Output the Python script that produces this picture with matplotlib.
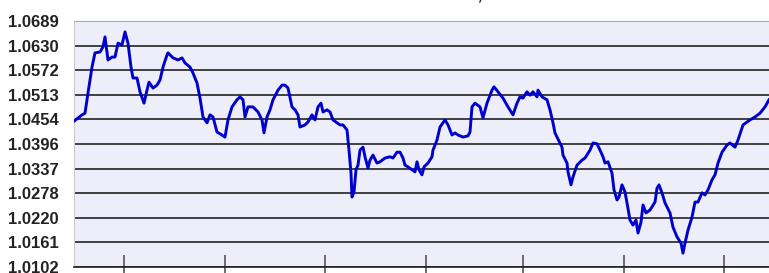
import numpy as np
import matplotlib.pyplot as plt

# series (day index, value)
days = [0, 8, 11, 14, 18, 21, 26, 29, 31, 34, 38, 41, 44, 48, 51, 54, 57, 59, 63, 66,
        70, 73, 75, 79, 83, 86, 89, 93, 94, 99, 104, 108, 111, 116, 119, 123, 126, 129, 133, 136,
        139, 143, 148, 151, 154, 158, 163, 166, 169, 171, 174, 179, 184, 188, 190, 193, 196, 199, 204, 208,
        211, 214, 218, 221, 224, 226, 231, 234, 238, 241, 244, 247, 249, 253, 256, 259, 263, 266, 269, 273,
        274, 275, 277, 278, 280, 282, 284, 286, 289, 291, 294, 296, 299, 303, 306, 311, 316, 319, 323, 326,
        329, 331, 334, 338, 341, 343, 345, 348, 350, 354, 358, 359, 363, 366, 371, 374, 378, 381, 384, 389,
        394, 396, 398, 401, 406, 409, 413, 418, 420, 424, 429, 434, 439, 443, 446, 449, 453, 456, 459, 463,
        464, 468, 473, 476, 479, 481, 483, 488, 489, 493, 494, 497, 499, 503, 508, 511, 516, 519, 523, 526,
        529, 531, 534, 538, 540, 543, 545, 548, 551, 553, 556, 559, 562, 564, 567, 569, 572, 576, 581, 583,
        585, 588, 591, 596, 599, 603, 607, 609, 611, 614, 618, 621, 624, 628, 631, 634, 638, 641, 644, 648,
        653, 656, 661, 664, 669, 676, 681, 686, 691, 695]
values = [1.0450, 1.0465, 1.0469, 1.0517, 1.0579, 1.0613, 1.0615, 1.0627, 1.0651, 1.0596,
          1.0603, 1.0603, 1.0636, 1.0632, 1.0663, 1.0636, 1.0579, 1.0553, 1.0553, 1.0520,
          1.0493, 1.0524, 1.0543, 1.0529, 1.0536, 1.0548, 1.0579, 1.0608, 1.0613, 1.0601,
          1.0596, 1.0601, 1.0589, 1.0579, 1.0565, 1.0541, 1.0505, 1.0460, 1.0446, 1.0465,
          1.0460, 1.0424, 1.0417, 1.0412, 1.0453, 1.0484, 1.0501, 1.0508, 1.0501, 1.0460,
          1.0484, 1.0484, 1.0472, 1.0453, 1.0422, 1.0460, 1.0477, 1.0501, 1.0524, 1.0536,
          1.0536, 1.0529, 1.0484, 1.0477, 1.0465, 1.0436, 1.0441, 1.0448, 1.0465, 1.0453,
          1.0484, 1.0493, 1.0472, 1.0477, 1.0472, 1.0453, 1.0446, 1.0441, 1.0441, 1.0429,
          1.0405, 1.0381, 1.0326, 1.0269, 1.0281, 1.0334, 1.0345, 1.0381, 1.0388, 1.0365,
          1.0338, 1.0357, 1.0369, 1.0350, 1.0353, 1.0362, 1.0365, 1.0362, 1.0376, 1.0376,
          1.0362, 1.0345, 1.0341, 1.0334, 1.0329, 1.0353, 1.0334, 1.0322, 1.0341, 1.0350,
          1.0365, 1.0381, 1.0405, 1.0436, 1.0453, 1.0441, 1.0417, 1.0422, 1.0417, 1.0412,
          1.0415, 1.0424, 1.0484, 1.0493, 1.0484, 1.0458, 1.0493, 1.0524, 1.0532, 1.0520,
          1.0505, 1.0484, 1.0465, 1.0493, 1.0508, 1.0505, 1.0520, 1.0512, 1.0520, 1.0508,
          1.0524, 1.0508, 1.0501, 1.0477, 1.0446, 1.0422, 1.0412, 1.0388, 1.0369, 1.0350,
          1.0329, 1.0298, 1.0317, 1.0345, 1.0357, 1.0362, 1.0381, 1.0398, 1.0396, 1.0381,
          1.0365, 1.0350, 1.0353, 1.0326, 1.0286, 1.0262, 1.0269, 1.0298, 1.0281, 1.0255,
          1.0214, 1.0202, 1.0214, 1.0183, 1.0209, 1.0250, 1.0231, 1.0238, 1.0257, 1.0290,
          1.0298, 1.0279, 1.0255, 1.0231, 1.0197, 1.0174, 1.0159, 1.0135, 1.0159, 1.0190,
          1.0221, 1.0257, 1.0257, 1.0279, 1.0274, 1.0286, 1.0310, 1.0322, 1.0350, 1.0376,
          1.0393, 1.0398, 1.0388, 1.0405, 1.0441, 1.0453, 1.0460, 1.0469, 1.0484, 1.0501]

y_ticks = [1.0102, 1.0161, 1.0220, 1.0278, 1.0337, 1.0396, 1.0454, 1.0513, 1.0572, 1.0630, 1.0689]
x_ticks = [50, 151, 251, 352, 449, 550, 650]

fig = plt.figure(figsize=(7.69, 2.73), dpi=100)
ax = fig.add_axes([74/769, 6/273, 695/769, 246/273])
ax.set_facecolor('#eeeefa')

ax.plot(days, values, color='#0000cc', lw=2.1, zorder=3)

ax.set_xlim(0, 695)
ax.set_ylim(y_ticks[0], y_ticks[-1])
ax.set_yticks(y_ticks)
ax.set_yticklabels(['%.4f' % v for v in y_ticks])
ax.set_xticks(x_ticks)
ax.set_xticklabels([])

ax.yaxis.grid(True, color='#222222', lw=1.2)
ax.tick_params(axis='y', length=0, pad=11, labelsize=12, labelcolor='#222222')
for lab in ax.get_yticklabels():
    lab.set_fontweight('bold')
    lab.set_family('Liberation Sans')
ax.tick_params(axis='x', direction='inout', length=18, width=1.2, color='#555555')

ax.spines['top'].set_color('#aaaaaa')
ax.spines['left'].set_color('#cccccc')
ax.spines['right'].set_visible(False)
ax.spines['bottom'].set_color('#222222')
ax.spines['bottom'].set_linewidth(1.2)

# remnant of the cut-off title
fig.text(480/769, 0.995, ',', ha='center', va='baseline', fontsize=11, color='#333333')

fig.savefig('out.png', dpi=100)
